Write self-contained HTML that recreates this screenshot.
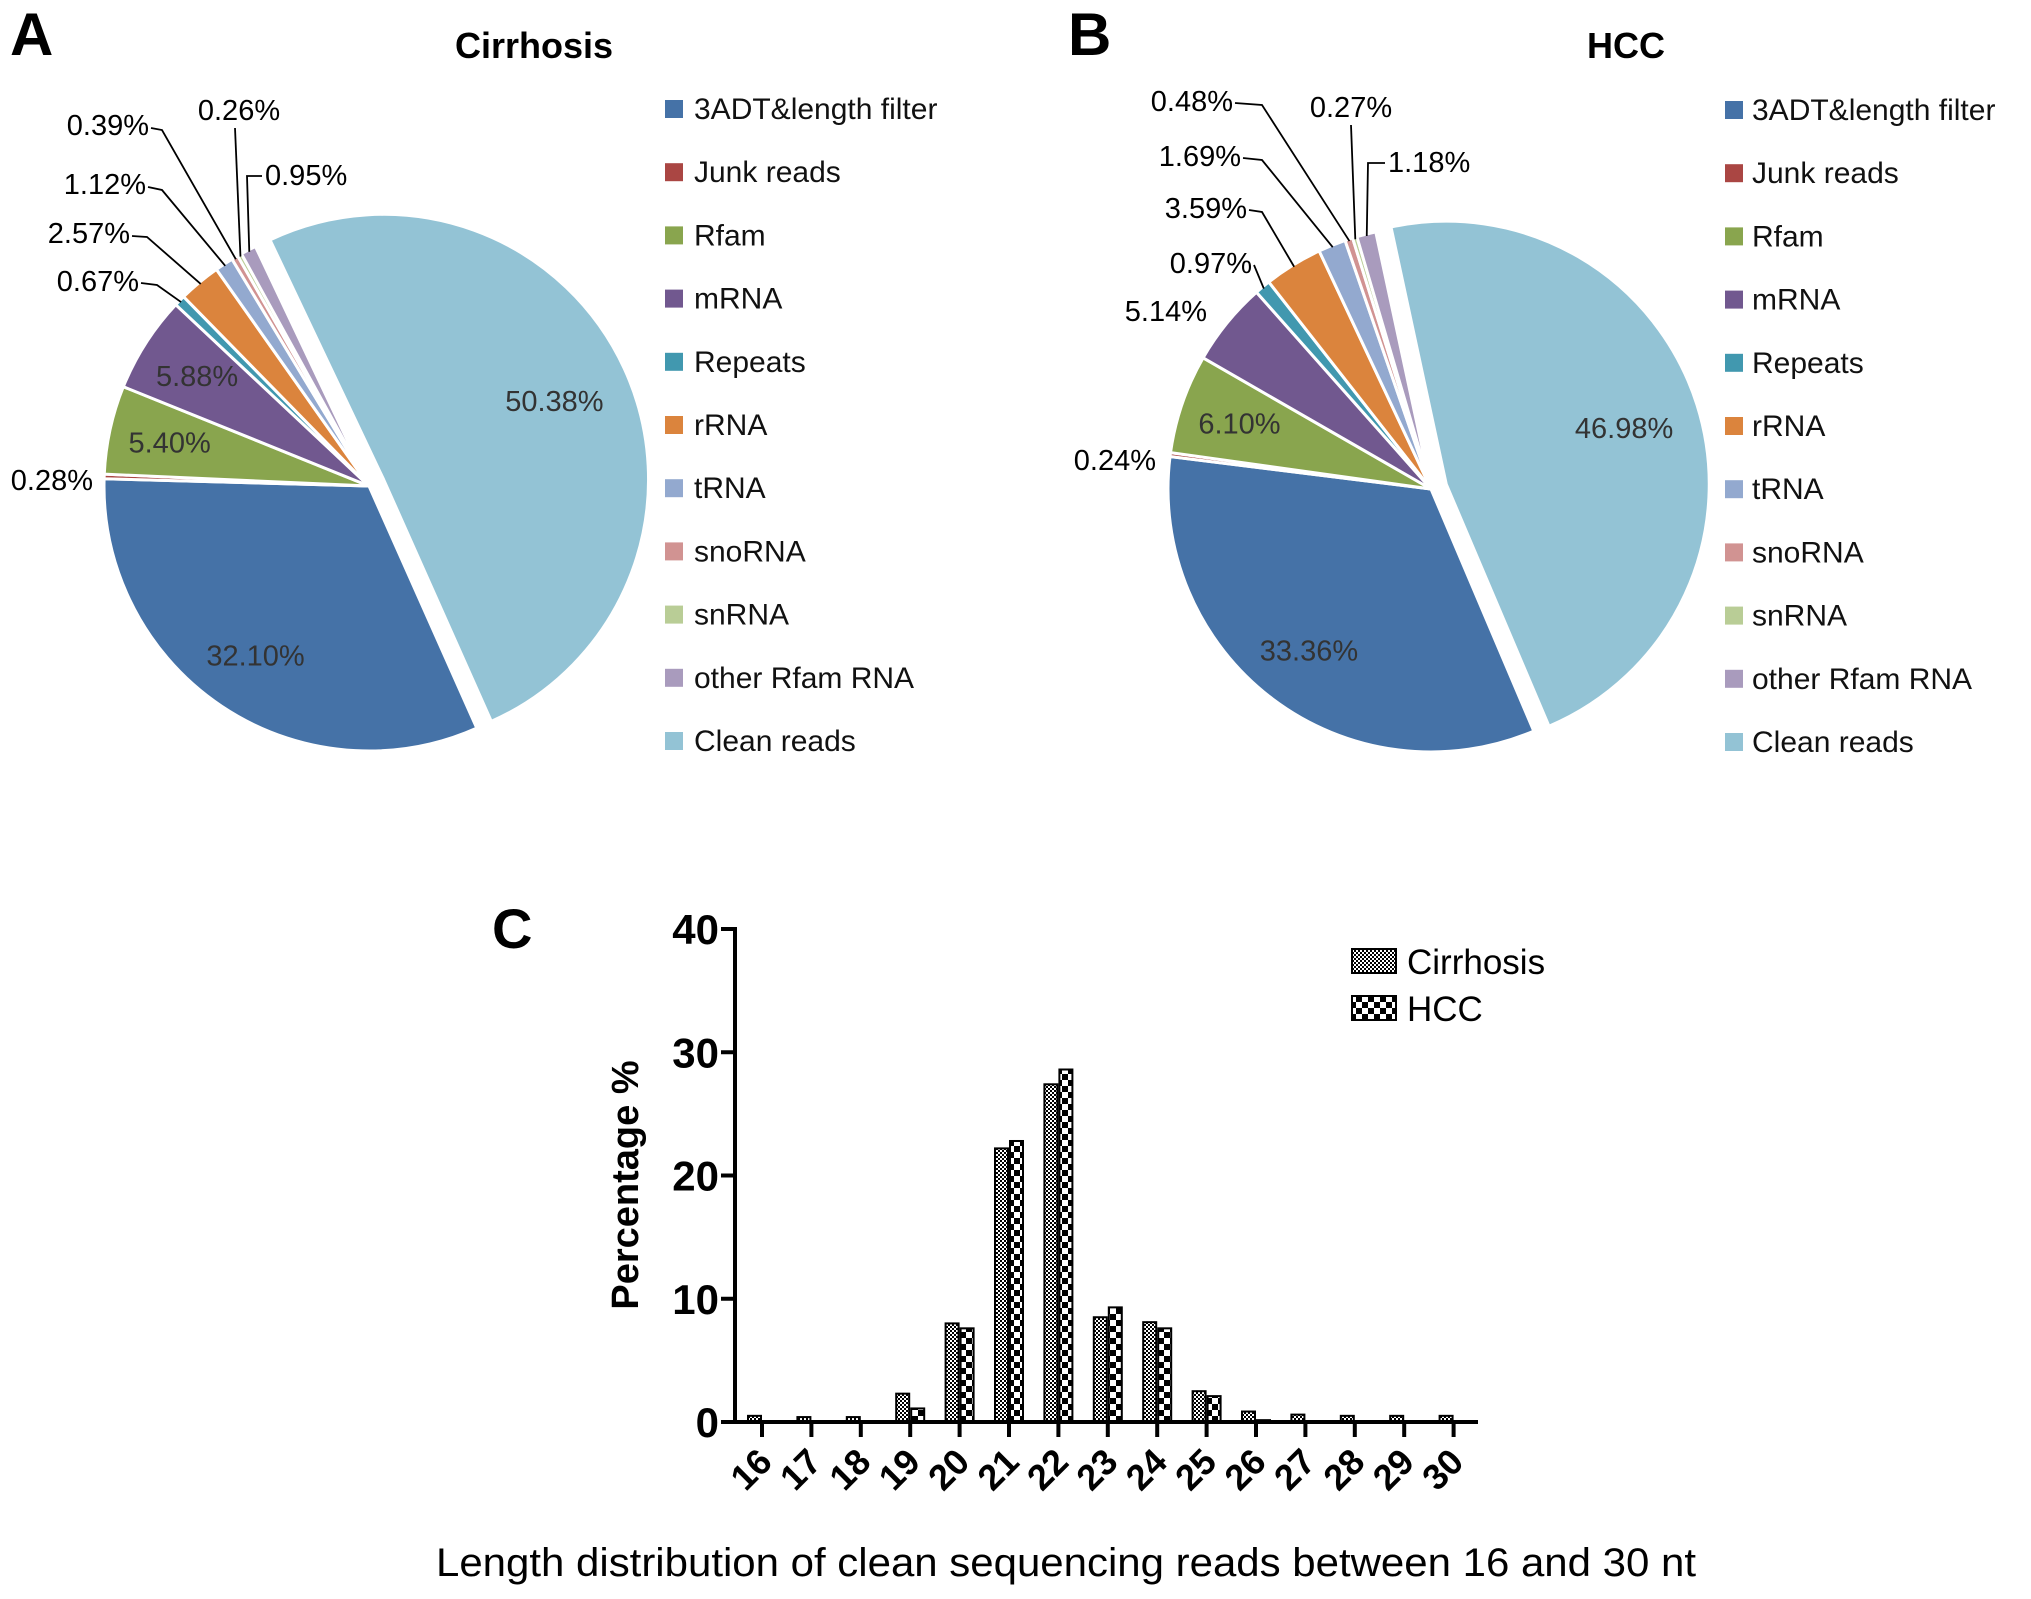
<!DOCTYPE html>
<html><head><meta charset="utf-8"><style>
html,body{margin:0;padding:0;background:#fff;}
svg{display:block;font-family:"Liberation Sans",Arial,sans-serif;}
</style></head><body>
<svg id="fig" width="2031" height="1599" viewBox="0 0 2031 1599">
<defs>
<pattern id="patCir" width="4" height="4" patternUnits="userSpaceOnUse"><rect width="4" height="4" fill="#fff"/><rect width="2" height="2" fill="#000"/><rect x="2" y="2" width="2" height="2" fill="#000"/></pattern>
<pattern id="patHcc" width="12" height="12" patternUnits="userSpaceOnUse"><rect width="12" height="12" fill="#fff"/><rect width="6" height="6" fill="#000"/><rect x="6" y="6" width="6" height="6" fill="#000"/></pattern>
</defs>
<text x="10" y="55" font-size="60" font-weight="bold">A</text>
<text x="1068" y="55" font-size="60" font-weight="bold">B</text>
<text x="492" y="948" font-size="56" font-weight="bold">C</text>
<text x="534" y="58" font-size="36" font-weight="bold" text-anchor="middle">Cirrhosis</text>
<text x="1626" y="58" font-size="36" font-weight="bold" text-anchor="middle">HCC</text>
<g id="pieA"></g>
<g id="pieB"></g>
<g id="legA"></g>
<g id="legB"></g>
<g id="bars"></g>
</svg>
<script>
const categories = ["3ADT&length filter","Junk reads","Rfam","mRNA","Repeats","rRNA","tRNA","snoRNA","snRNA","other Rfam RNA","Clean reads"];
const cirrhosisValues = [32.10,0.28,5.40,5.88,0.67,2.57,1.12,0.39,0.26,0.95,50.38];
const hccValues = [33.36,0.24,6.10,5.14,0.97,3.59,1.69,0.48,0.27,1.18,46.98];
const lengths = ["16","17","18","19","20","21","22","23","24","25","26","27","28","29","30"];
const cirrhosisLen = [0.5,0.4,0.4,2.3,8.0,22.2,27.4,8.5,8.1,2.5,0.85,0.6,0.5,0.5,0.5];
const hccLen = [0,0,0,1.1,7.6,22.8,28.6,9.3,7.6,2.1,0.15,0,0,0,0];
const yTicks = [0,10,20,30,40];

const colors = ["#4572A7","#AA4643","#89A54E","#71588F","#4198AF","#DB843D","#93A9CF","#D19392","#B9CD96","#A99BBD","#93C3D5"];
const NS = "http://www.w3.org/2000/svg";
function mk(tag, attrs, parent){const e=document.createElementNS(NS,tag);for(const k in attrs)e.setAttribute(k,attrs[k]);parent.appendChild(e);return e;}
function pt(cx,cy,r,deg){const a=deg*Math.PI/180;return [cx+r*Math.sin(a),cy-r*Math.cos(a)];}

function drawPie(g, values, cx, cy, r, start, inside, outside){
  const total = values.reduce((a,b)=>a+b,0);
  let ang = start; const mids=[];
  values.forEach((v,i)=>{
    const sweep = v/total*360, mid = ang+sweep/2;
    let ox=0, oy=0;
    if(i===values.length-1){const p=pt(0,0,16,mid);ox=p[0];oy=p[1];}
    const c=[cx+ox,cy+oy];
    const p1=pt(c[0],c[1],r,ang), p2=pt(c[0],c[1],r,ang+sweep);
    const large = sweep>180?1:0;
    const path = mk('path',{d:`M${c[0]},${c[1]} L${p1[0]},${p1[1]} A${r},${r} 0 ${large} 1 ${p2[0]},${p2[1]} Z`,fill:colors[i],stroke:"#fff","stroke-width":3},g);
    
    
    mids.push(mid); ang += sweep;
  });
  inside.forEach(i=>{
    const p=pt(cx,cy,r*0.77,mids[i]);
    const t=mk('text',{x:p[0],y:p[1]+10,"font-size":29,fill:"#333","text-anchor":"middle"},g);
    t.textContent=values[i].toFixed(2)+"%";
    
    
  });
  outside.forEach(o=>{
    const i=o[0];
    const t=mk('text',{x:o[1],y:o[2],"font-size":29,fill:"#000","text-anchor":o[3]},g);
    t.textContent=values[i].toFixed(2)+"%";
    
    
    if(o[4]){
      const e=pt(cx,cy,r-2,mids[i]);
      const l=mk('polyline',{points:o[4].map(q=>q.join(',')).join(' ')+` ${e[0]},${e[1]}`,fill:"none",stroke:"#000","stroke-width":1.8},g);
      
      
    }
  });
}
drawPie(document.getElementById('pieA'), cirrhosisValues, 369, 486, 265, 156, [0,2,3,10], [
  [1,93,490,"end",null],
  [4,139,291,"end",[[141,283],[157,285]]],
  [5,130,243,"end",[[132,236],[147,237]]],
  [6,146,194,"end",[[148,187],[162,190]]],
  [7,149,135,"end",[[151,128],[162,130]]],
  [8,239,120,"middle",[[235,128]]],
  [9,265,185,"start",[[262,176],[247,176]]]
]);
drawPie(document.getElementById('pieB'), hccValues, 1431, 489, 263, 157, [0,2,10], [
  [1,1156,470,"end",null],
  [3,1207,321,"end",null],
  [4,1252,273,"end",[[1254,265]]],
  [5,1247,218,"end",[[1249,210],[1262,212]]],
  [6,1241,166,"end",[[1243,158],[1262,160]]],
  [7,1233,111,"end",[[1235,103],[1262,105]]],
  [8,1351,117,"middle",[[1351,125]]],
  [9,1388,172,"start",[[1385,163],[1368,163]]]
]);
function drawLegend(g, mx, tx, y0){
  categories.forEach((c,i)=>{
    const y=y0+i*63.2;
    const r=mk('rect',{x:mx,y:y-9,width:18,height:18,fill:colors[i]},g);
    
    
    const t=mk('text',{x:tx,y:y+10,"font-size":30,fill:"#111"},g);
    t.textContent=c;
    
    
  });
}
drawLegend(document.getElementById('legA'), 665, 694, 109);
drawLegend(document.getElementById('legB'), 1725, 1752, 110);

// bar chart
const gb=document.getElementById('bars');
const X0=735, Y0=1422, YTOP=929, YMAX=40;
function yS(v){return Y0-v*(Y0-YTOP)/YMAX;}
function xS(i){return 762+i*49.4;}
const BW=13;
lengths.forEach((l,i)=>{
  const t=xS(i);
  if(cirrhosisLen[i]>0){
    const b=mk('rect',{x:t-BW-1,y:yS(cirrhosisLen[i]),width:BW,height:Y0-yS(cirrhosisLen[i]),fill:"url(#patCir)",stroke:"#000","stroke-width":2},gb);
    
    
  }
  if(hccLen[i]>0){
    const b=mk('rect',{x:t+1,y:yS(hccLen[i]),width:BW,height:Y0-yS(hccLen[i]),fill:"url(#patHcc)",stroke:"#000","stroke-width":2},gb);
    
    
  }
  const tk=mk('line',{x1:t,y1:Y0,x2:t,y2:Y0+15,stroke:"#000","stroke-width":4},gb);
  
  
  const tl=mk('text',{x:t+12,y:Y0+42,"font-size":36,"font-weight":"bold","text-anchor":"end",transform:`rotate(-45 ${t+12} ${Y0+42})`},gb);
  tl.textContent=l;
  
  
});
yTicks.forEach(v=>{
  const y=yS(v);
  const tk=mk('line',{x1:X0-14,y1:y,x2:X0,y2:y,stroke:"#000","stroke-width":4},gb);
  
  
  const tl=mk('text',{x:X0-16,y:y+15,"font-size":42,"font-weight":"bold","text-anchor":"end"},gb);
  tl.textContent=v;
  
  
});
const ya=mk('line',{x1:X0,y1:YTOP-2,x2:X0,y2:Y0+2,stroke:"#000","stroke-width":4},gb);


const xa=mk('line',{x1:X0-2,y1:Y0,x2:1478,y2:Y0,stroke:"#000","stroke-width":4},gb);


const yt=mk('text',{x:638,y:1185,"font-size":38,"font-weight":"bold","text-anchor":"middle",transform:"rotate(-90 638 1185)"},gb);
yt.textContent="Percentage %";


const xt=mk('text',{x:1066,y:1576,"font-size":40,"text-anchor":"middle",textLength:1260,lengthAdjust:"spacingAndGlyphs"},gb);
xt.textContent="Length distribution of clean sequencing reads between 16 and 30 nt";


[["Cirrhosis","url(#patCir)",961],["HCC","url(#patHcc)",1008]].forEach(d=>{
  const r=mk('rect',{x:1352,y:d[2]-12,width:44,height:24,fill:d[1],stroke:"#000","stroke-width":2},gb);
  
  
  const t=mk('text',{x:1407,y:d[2]+13,"font-size":35},gb);
  t.textContent=d[0];
  
  
});
</script>
</body></html>
